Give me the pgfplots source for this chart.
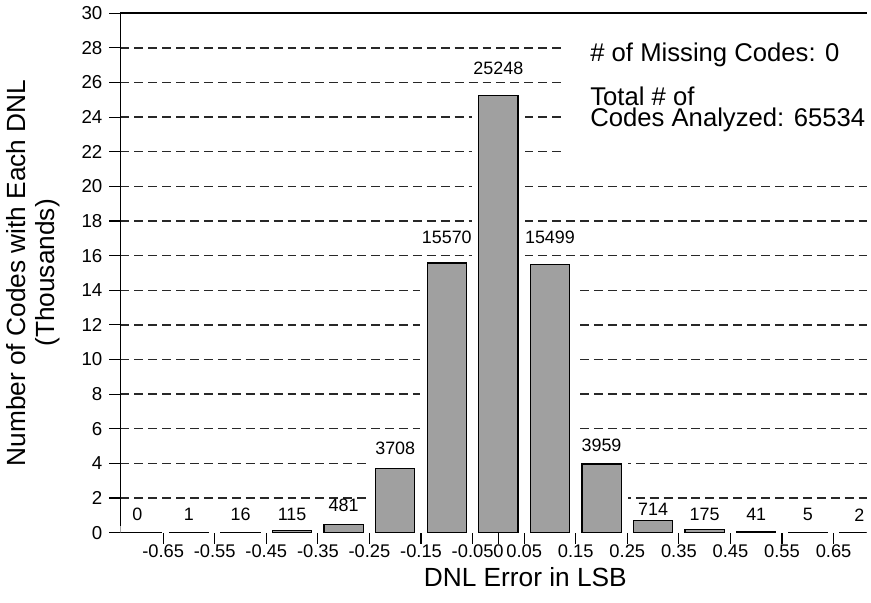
\documentclass[border=0pt]{standalone}
\usepackage{fontspec}
\setmainfont{Liberation Sans}
\usepackage{pgfplots}
\usepackage{pgfplotstable}
\pgfplotsset{compat=1.18}
\pgfplotsset{
  layers/dnl/.define layer set={axis background,axis grid,main,axis ticks,axis lines,axis tick labels,axis descriptions,axis foreground}{},
}
\definecolor{barfill}{RGB}{160,160,160}
\definecolor{gridc}{RGB}{40,40,40}

% bin centre, code count, count in thousands, height of the count label
\pgfplotstableread{
x     cnt    k       ly
-0.7  0      0.000   1.03
-0.6  1      0.001   1.03
-0.5  16     0.016   1.03
-0.4  115    0.115   1.03
-0.3  481    0.481   1.55
-0.2  3708   3.708   4.89
-0.1  15570  15.570  17.07
0.0   25248  25.248  26.8
0.1   15499  15.499  17.07
0.2   3959   3.959   5.06
0.3   714    0.714   1.32
0.4   175    0.175   1.03
0.5   41     0.041   1.03
0.6   5      0.005   1.03
0.7   2      0.002   1.03
}\dnl

\begin{document}
\begin{tikzpicture}
\begin{axis}[
  set layers=dnl,
  clip mode=individual,
  scale only axis, width=375pt, height=261pt,
  xmin=-0.733, xmax=0.714, ymin=0, ymax=30,
  axis x line*=bottom, axis y line*=left,
  axis line style={-, line width=0.8pt},
  xtick={-0.65,-0.55,-0.45,-0.35,-0.25,-0.15,-0.05,0,0.05,0.15,0.25,0.35,0.45,0.55,0.65},
  xticklabels={-0.65,-0.55,-0.45,-0.35,-0.25,-0.15,-0.05,0,0.05,0.15,0.25,0.35,0.45,0.55,0.65},
  ytick={0,2,...,30},
  /pgf/number format/assume math mode=true,
  tick align=outside, major tick length=5.5pt,
  tick style={black, line width=0.6pt},
  x tick label style={font=\fontsize{9.2}{10}\selectfont, yshift=3pt},
  y tick label style={font=\fontsize{9.4}{10}\selectfont},
  ymajorgrids,
  grid style={gridc, line width=0.7pt, dash pattern=on 4.5pt off 2.5pt},
  xlabel={DNL Error in LSB},
  ylabel={Number of Codes with Each DNL\\(Thousands)},
  label style={font=\fontsize{13.2}{14.5}\selectfont},
  ylabel style={align=center},
  ylabel shift=4pt,
  xlabel style={xshift=16pt},
  xlabel shift=-2pt,
]
\addplot[ybar, bar width=0.076, bar shift=0pt, fill=barfill, draw=black,
  line width=0.6pt, preaction={draw=white, line width=7pt}]
  table[x=x, y=k]{\dnl};
\addplot[draw=none, nodes near coords, point meta=explicit symbolic,
  every node near coord/.append style={anchor=center, font=\fontsize{9}{10}\selectfont}]
  table[x=x, y=ly, meta=cnt]{\dnl};

\draw[line width=0.8pt] (rel axis cs:0,1) -- (rel axis cs:1,1);
\path (rel axis cs:0,0) ++(0,-35pt);
\path (rel axis cs:0,1) ++(0,6.5pt);
\fill[white] (axis cs:0.129,21.3) rectangle (axis cs:0.714,28.8);
\node[anchor=west, inner sep=0pt, font=\fontsize{12.9}{11}\selectfont] at (axis cs:0.1775,27.6) {\# of Missing Codes: 0};
\node[anchor=west, inner sep=0pt, align=left, font=\fontsize{12.9}{11}\selectfont] at (axis cs:0.1775,24.45) {Total \# of\\Codes Analyzed: 65534};
\end{axis}
\end{tikzpicture}
\end{document}
